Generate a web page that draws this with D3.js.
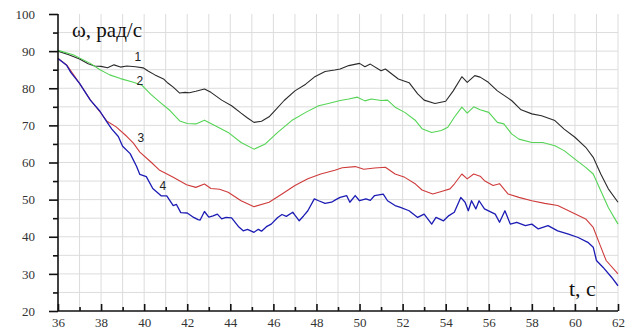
<!DOCTYPE html>
<html>
<head>
<meta charset="utf-8">
<script src="https://cdn.jsdelivr.net/npm/d3@7/dist/d3.min.js"></script>
<style>
  body { margin: 0; background: #fff; }
  svg { display: block; }
</style>
</head>
<body>
<script>
// time (s) and omega (rad/s), one pair of arrays per curve
const t1 = [36, 36.5, 37, 37.4, 37.7, 38, 38.3, 38.6, 38.9, 39.2, 39.6, 39.95, 40.2, 40.5, 40.9, 41.1, 41.35, 41.65, 41.9, 42.1, 42.4, 42.8, 43.1, 43.6, 44.06, 44.5, 44.8, 45.1, 45.45, 45.8, 46.07, 46.5, 47, 47.5, 47.9, 48.4, 48.85, 49.1, 49.5, 50, 50.25, 50.5, 51, 51.2, 51.8, 52.3, 52.7, 53, 53.5, 54, 54.35, 54.75, 55, 55.35, 55.6, 55.98, 56.4, 57.06, 57.5, 58, 58.45, 59.07, 59.5, 60, 60.5, 60.85, 61.2, 61.55, 62];
const w1 = [90, 89, 87.9, 86.6, 86, 85.9, 85.5, 86.3, 85.7, 86, 85.8, 85.5, 84.6, 83.6, 82.5, 81.4, 80.3, 78.7, 78.9, 78.8, 79.2, 79.8, 78.9, 76.8, 75.3, 73.3, 72, 70.8, 71.1, 72.3, 74, 76.7, 79.3, 81.1, 83, 84.5, 84.9, 85.2, 86.1, 86.7, 85.8, 86.5, 84.7, 85.2, 82.5, 81.5, 78.5, 76.8, 75.9, 76.5, 79.3, 83.1, 81.6, 83.4, 83, 81.6, 79.3, 76.7, 74.2, 73.1, 72.6, 71.3, 69, 66.8, 64.1, 61.4, 56.9, 52.9, 49.3];

const t2 = [36, 36.7, 37.5, 37.95, 38.4, 38.9, 39.5, 39.9, 40.3, 40.7, 41.2, 41.65, 42, 42.4, 42.8, 43.3, 43.9, 44.5, 45.1, 45.6, 46.2, 46.85, 47.5, 48.1, 48.55, 49.1, 49.5, 49.9, 50.25, 50.55, 51, 51.3, 51.65, 52.1, 52.6, 52.9, 53.35, 53.8, 54.1, 54.4, 54.75, 55, 55.3, 55.6, 56, 56.4, 56.7, 57.06, 57.4, 58, 58.5, 59.07, 59.5, 60, 60.5, 60.85, 61.2, 61.55, 62];
const w2 = [90.2, 89, 86.7, 85, 83.6, 82.6, 81.6, 80.8, 78.4, 76.4, 74, 71.2, 70.5, 70.4, 71.4, 69.9, 68.1, 65.4, 63.6, 64.9, 68.1, 71.3, 73.5, 75.3, 75.9, 76.7, 77.1, 77.6, 76.6, 77.1, 76.7, 76.8, 74.9, 73.5, 71.3, 69.1, 68.1, 68.6, 69.5, 72.2, 74.9, 73.3, 75, 74.2, 73.5, 70.8, 70.4, 67.7, 66.3, 65.4, 65.4, 64.5, 63.2, 60.9, 58.7, 56.9, 52.4, 47.9, 43.4];

const t3 = [36, 36.4, 37, 37.5, 37.95, 38.26, 38.7, 39.2, 39.5, 39.8, 40.3, 40.7, 41.35, 41.97, 42.4, 42.8, 43.1, 43.5, 43.9, 44.5, 45.1, 45.8, 46.4, 47, 47.6, 48.2, 48.85, 49.2, 49.8, 50.2, 50.7, 51.2, 51.65, 52.1, 52.6, 52.9, 53.4, 53.8, 54.2, 54.4, 54.75, 55, 55.3, 55.6, 55.8, 56.2, 56.5, 56.9, 57.4, 58, 58.6, 59.2, 59.85, 60.5, 60.85, 61.15, 61.45, 62];
const w3 = [88, 86.3, 81.3, 76.9, 73.6, 71.2, 69.6, 67, 65.2, 62.8, 60.2, 58, 56, 54, 53.3, 54.2, 53, 52.8, 52, 49.7, 48.1, 49.3, 51.5, 53.8, 55.6, 56.9, 57.9, 58.6, 58.9, 58.2, 58.5, 58.7, 56.9, 56, 54.2, 52.6, 51.5, 52.2, 52.9, 54.2, 56.9, 55.6, 56.9, 56.3, 55.1, 53.8, 54.3, 51.5, 50.6, 49.7, 49, 48.4, 46.6, 44.8, 42.5, 38, 33.6, 30];

const t4 = [36, 36.4, 36.6, 37, 37.5, 37.95, 38.26, 38.5, 38.8, 39, 39.35, 39.65, 39.8, 40.1, 40.4, 40.6, 40.8, 41.05, 41.35, 41.5, 41.7, 42, 42.3, 42.5, 42.6, 42.8, 43, 43.2, 43.4, 43.6, 43.8, 44.06, 44.4, 44.6, 44.8, 45.1, 45.3, 45.45, 45.7, 45.9, 46.2, 46.4, 46.6, 46.9, 47, 47.2, 47.4, 47.6, 47.9, 48.1, 48.4, 48.7, 48.9, 49.1, 49.4, 49.55, 49.8, 50, 50.3, 50.5, 50.7, 51.1, 51.3, 51.65, 51.9, 52.3, 52.7, 53, 53.35, 53.55, 53.9, 54.15, 54.4, 54.7, 54.9, 55.05, 55.2, 55.4, 55.55, 55.8, 56.3, 56.5, 56.75, 57, 57.3, 57.7, 58, 58.3, 58.75, 59.2, 59.7, 60.15, 60.6, 60.85, 61, 61.3, 61.7, 62];
const w4 = [88, 86.2, 84.2, 81.3, 76.8, 73.8, 71, 69, 67, 64.4, 62.4, 58.9, 56.8, 56.2, 53, 52, 51, 51, 48.4, 48.7, 46.5, 46.4, 45.2, 44.6, 44.5, 46.8, 45.3, 45.6, 46.1, 44.8, 45.2, 45.1, 42.6, 41.6, 42, 41.2, 42, 41.5, 42.8, 43.4, 45.2, 46, 45.5, 46.6, 45.8, 44.3, 45.6, 47, 50.2, 49.7, 49, 49.3, 50, 50.6, 51.1, 49.3, 51.1, 49.7, 50.2, 49.8, 51.1, 51.5, 49.7, 48.4, 47.9, 47, 45.2, 46.1, 43.4, 45.2, 44.3, 45.7, 46.6, 50.6, 49.3, 47, 49.7, 47.5, 49.7, 47.5, 46.1, 43.9, 47, 43.4, 43.9, 43, 43.4, 42.1, 43, 41.6, 40.7, 39.8, 38.5, 37.2, 33.6, 31.8, 29.1, 26.8];

const xTicks = [36, 38, 40, 42, 44, 46, 48, 50, 52, 54, 56, 58, 60, 62];
const yTicks = [20, 30, 40, 50, 60, 70, 80, 90, 100];
const curveNames = ["1", "2", "3", "4"];
const curveColors = ["#2b2b2b", "#55d455", "#cf3b3b", "#1c1cb4"];
const nameAt = [[39.71, 88.3], [39.8, 82.0], [39.85, 66.6], [40.87, 53.7]];

const width = 632, height = 329;
const padL = 58, padR = 618, padT = 14, padB = 311;

const svg = d3.select("body").append("svg")
  .attr("width", width).attr("height", height);

const x = d3.scaleLinear().domain([36, 62]).range([padL, padR]);
const y = d3.scaleLinear().domain([20, 100]).range([padB, padT]);

// grid
const grid = svg.append("g").attr("stroke", "#dcdcdc").attr("stroke-width", 1);
grid.selectAll("line.v").data(d3.range(37, 63, 1)).enter().append("line")
  .attr("x1", d => x(d)).attr("x2", d => x(d))
  .attr("y1", y(100)).attr("y2", y(20));
grid.selectAll("line.h").data(d3.range(25, 100, 5)).enter().append("line")
  .attr("x1", x(36)).attr("x2", x(62))
  .attr("y1", d => y(d)).attr("y2", d => y(d));

// curves
const series = [[t1, w1], [t2, w2], [t3, w3], [t4, w4]];
const line = d3.line().x(d => x(d[0])).y(d => y(d[1]));
series.forEach((s, i) => {
  svg.append("path")
    .datum(d3.zip(s[0], s[1]))
    .attr("d", line)
    .attr("fill", "none")
    .attr("stroke", curveColors[i])
    .attr("stroke-width", i == 3 ? 1.3 : 1.1)
    .attr("stroke-linejoin", "round");
});

// axes
const xAxis = svg.append("g").attr("transform", `translate(0,${padB})`)
  .call(d3.axisBottom(x).tickValues(xTicks).tickSize(-7).tickPadding(7).tickFormat(d3.format("d")));
svg.append("g").attr("transform", `translate(0,${padB})`)
  .call(d3.axisBottom(x).tickValues(d3.range(37, 62, 2)).tickSize(-4).tickFormat(""))
  .call(g => g.select(".domain").remove());

const yAxis = svg.append("g").attr("transform", `translate(${padL},0)`)
  .call(d3.axisLeft(y).tickValues(yTicks).tickSize(9).tickPadding(14).tickFormat(d3.format("d")));
svg.append("g").attr("transform", `translate(${padL},0)`)
  .call(d3.axisLeft(y).tickValues(d3.range(25, 100, 10)).tickSize(5).tickFormat(""))
  .call(g => g.select(".domain").remove());

svg.selectAll(".domain").attr("stroke", "#111").attr("stroke-width", 1.6);
svg.selectAll(".tick line").attr("stroke", "#111").attr("stroke-width", 1.6);
svg.selectAll(".tick text")
  .attr("font-family", "'Liberation Serif', 'Times New Roman', serif")
  .attr("font-size", 13).attr("fill", "#333");
xAxis.select(".domain").attr("d", `M${padL},0H${padR}`);
yAxis.select(".domain").attr("d", `M0,${padB}V${padT}`);

// axis titles
svg.append("text").attr("x", 72).attr("y", 37)
  .attr("font-family", "'Liberation Serif', 'Times New Roman', serif")
  .attr("font-size", 21).attr("fill", "#111")
  .text("ω, рад/с");
svg.append("text").attr("x", 569).attr("y", 296)
  .attr("font-family", "'Liberation Serif', 'Times New Roman', serif")
  .attr("font-size", 22).attr("fill", "#111")
  .text("t, с");

// curve numbers
svg.selectAll("text.num").data(curveNames).enter().append("text")
  .attr("class", "num")
  .attr("x", (d, i) => x(nameAt[i][0]))
  .attr("y", (d, i) => y(nameAt[i][1]))
  .attr("text-anchor", "middle").attr("dominant-baseline", "central")
  .attr("font-family", "'Liberation Sans', Arial, sans-serif")
  .attr("font-size", 12).attr("fill", "#222")
  .text(d => d);
</script>
</body>
</html>
